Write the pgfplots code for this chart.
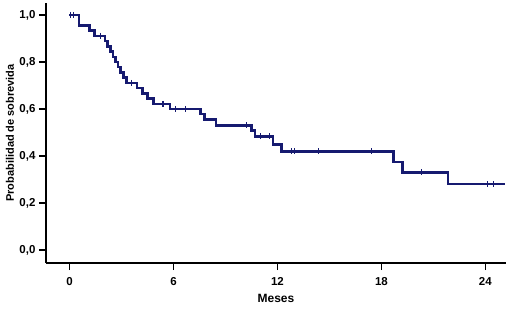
\documentclass[border=0pt]{standalone}
\usepackage{pgfplots}
\pgfplotsset{compat=1.18}
\usepackage{fontspec}
\setmainfont{Liberation Sans}
\definecolor{kmblue}{RGB}{22,26,112}

\begin{document}
\begin{tikzpicture}
\begin{axis}[
  scale only axis, width=460bp, height=260bp,
  xmin=-1.356, xmax=25.19, ymin=-0.0553, ymax=1.051,
  axis x line=bottom, axis y line=left,
  axis line style={-, line width=1.6bp, black},
  xtick={0,6,12,18,24}, ytick={0,0.2,0.4,0.6,0.8,1.0},
  tick align=outside, major tick length=7bp,
  tick style={black, line width=1.3bp},
  yticklabel style={/pgf/number format/fixed, /pgf/number format/fixed zerofill,
    /pgf/number format/precision=1, /pgf/number format/use comma},
  /pgf/number format/assume math mode=true,
  tick label style={font=\fontsize{11.5bp}{13bp}\selectfont\bfseries},
  xticklabel style={yshift=-3.5bp},
  yticklabel style={xshift=0bp},
  xlabel={Meses}, ylabel={Probabilidad de sobrevida},
  every axis x label/.style={at={(axis description cs:0.5,0)}, yshift=-35bp, anchor=center,
    font=\fontsize{12bp}{14bp}\selectfont\bfseries},
  every axis y label/.style={at={(axis description cs:0,0.5)}, xshift=-36bp, rotate=90, anchor=center,
    font=\fontsize{11bp}{13bp}\selectfont\bfseries},
  clip=false,
]
\addplot[const plot, kmblue, line width=2.6bp] coordinates {
  (0,1.000) (0.55,0.956) (1.15,0.933) (1.45,0.911) (2.05,0.889) (2.2,0.867)
  (2.35,0.844) (2.5,0.822) (2.65,0.800) (2.8,0.778) (2.95,0.756) (3.1,0.733)
  (3.3,0.711) (3.9,0.689) (4.2,0.667) (4.5,0.644) (4.85,0.622) (5.8,0.600)
  (7.55,0.578) (7.8,0.556) (8.45,0.531) (10.5,0.508) (10.7,0.484) (11.75,0.450)
  (12.25,0.420) (18.7,0.375) (19.2,0.330) (21.85,0.280) (25.15,0.280)
};
\addplot[only marks, mark=|, mark size=3bp, kmblue, mark options={line width=1.2bp}] coordinates {
  (0.05,1.000) (0.25,1.000) (1.8,0.911) (3.6,0.711) (5.4,0.622) (6.1,0.600)
  (6.7,0.600) (10.2,0.531) (11.0,0.484) (11.55,0.484) (12.8,0.420) (13.0,0.420)
  (14.35,0.420) (17.45,0.420) (20.3,0.330) (24.1,0.280) (24.45,0.280)
};
\end{axis}
\pgfresetboundingbox
\path (-46bp,-46bp) rectangle (464bp,263bp);
\end{tikzpicture}
\end{document}
